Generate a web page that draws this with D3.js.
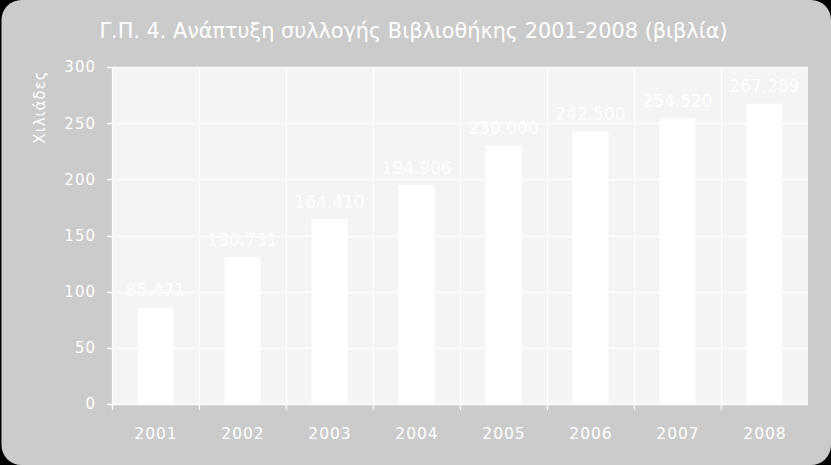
<!DOCTYPE html>
<html><head><meta charset="utf-8">
<script src="https://cdn.jsdelivr.net/npm/d3@7"></script>
<style>
html,body{margin:0;padding:0;background:#000;}
svg{display:block;}
text{font-family:"DejaVu Sans",Verdana,sans-serif;fill:#fff;}
</style></head><body>
<svg id="c" width="831" height="465"></svg>
<script>
const title = "Γ.Π. 4. Ανάπτυξη συλλογής Βιβλιοθήκης 2001-2008 (βιβλία)";
const yTitle = "Χιλιάδες";
const years = ["2001","2002","2003","2004","2005","2006","2007","2008"];
const values = [85.471,130.731,164.410,194.906,230.000,242.500,254.520,267.289];
const valueLabels = ["85.471","130.731","164.410","194.906","230.000","242.500","254.520","267.289"];
const yTicks = [0,50,100,150,200,250,300];

const svg = d3.select("#c");
const W = 831, H = 465;
const m = {l:112, r:23, t:67, b:61};
const pw = W - m.l - m.r, ph = H - m.t - m.b;

svg.append("rect").attr("x",1.5).attr("y",0).attr("width",W-1.5).attr("height",H)
  .attr("rx",20).attr("ry",20).attr("fill","#cbcbcb");

const x = d3.scaleBand().domain(years).range([m.l, m.l+pw]).paddingInner(0).paddingOuter(0);
const y = d3.scaleLinear().domain([0,300]).range([m.t+ph, m.t]);

svg.append("rect").attr("x",m.l).attr("y",m.t).attr("width",pw).attr("height",ph).attr("fill","#f4f4f4");

// horizontal grid
svg.append("g").selectAll("line").data(yTicks).join("line")
  .attr("x1",m.l-5).attr("x2",m.l+pw)
  .attr("y1",d=>Math.round(y(d))+0.5).attr("y2",d=>Math.round(y(d))+0.5)
  .attr("stroke","#fff").attr("stroke-width",1.3);

// vertical grid at boundaries
const bounds = years.map(d=>x(d));
svg.append("g").selectAll("line").data(bounds).join("line")
  .attr("x1",d=>Math.round(d)+0.5).attr("x2",d=>Math.round(d)+0.5)
  .attr("y1",m.t).attr("y2",m.t+ph+6)
  .attr("stroke","#fff").attr("stroke-width",1.3);

// bars
const bw = 36;
svg.append("g").selectAll("rect").data(years).join("rect")
  .attr("x",(d)=>x(d)+x.bandwidth()/2-bw/2)
  .attr("width",bw)
  .attr("y",(d,i)=>y(values[i]))
  .attr("height",(d,i)=>y(0)-y(values[i]))
  .attr("fill","#fff");

// value labels
svg.append("g").selectAll("text").data(years).join("text")
  .attr("x",d=>x(d)+x.bandwidth()/2)
  .attr("y",(d,i)=>y(values[i])-11.5)
  .attr("text-anchor","middle")
  .style("font-size","17px")
  .text((d,i)=>valueLabels[i]);

// y tick labels
svg.append("g").selectAll("text").data(yTicks).join("text")
  .attr("x",m.l-16).attr("y",d=>y(d)).attr("dy","0.36em")
  .attr("text-anchor","end")
  .style("font-size","15px").style("letter-spacing","1px")
  .text(d=>d);

// x tick labels
svg.append("g").selectAll("text").data(years).join("text")
  .attr("x",d=>x(d)+x.bandwidth()/2+0.5).attr("y",439)
  .attr("text-anchor","middle")
  .style("font-size","15.5px").style("letter-spacing","1px")
  .text(d=>d);

// title
svg.append("text").attr("x",W/2-2).attr("y",38).attr("text-anchor","middle")
  .style("font-size","20.8px").text(title);

// y title
svg.append("text").attr("transform","translate(45,107) rotate(-90)")
  .attr("text-anchor","middle")
  .style("font-size","15px").style("letter-spacing","1px")
  .text(yTitle);
</script>
</body></html>
